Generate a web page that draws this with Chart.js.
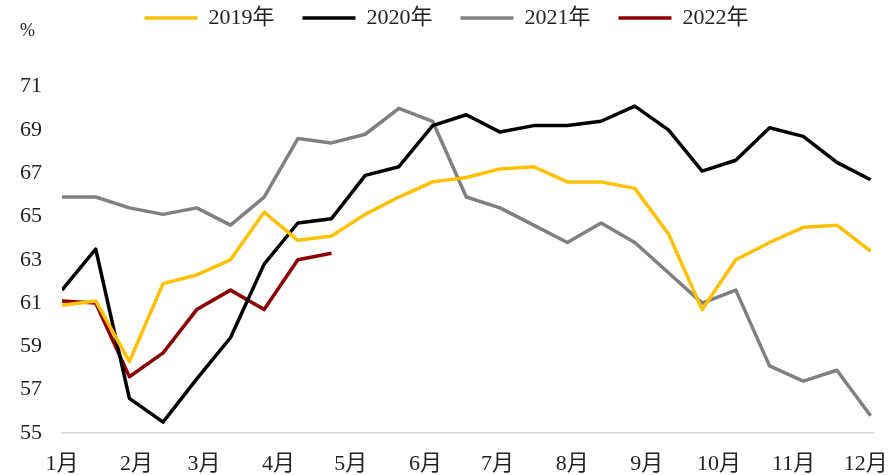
<!DOCTYPE html>
<html>
<head>
<meta charset="utf-8">
<script src="https://cdn.jsdelivr.net/npm/chart.js@4.4.1/dist/chart.umd.min.js"></script>
<style>
  html, body { margin: 0; padding: 0; background: #fff; }
  #wrap { position: relative; width: 892px; height: 475px; }
  #unit { position: absolute; left: 20px; top: 20px; font: 18px "Liberation Serif", "Noto Sans CJK SC", serif; color: #222; }
</style>
</head>
<body>
<div id="wrap">
  <canvas id="myChart" width="892" height="475"></canvas>
  <div id="unit">%</div>
</div>
<script>
// day of year for each reading (every two weeks)
var days = [0, 14, 28, 42, 56, 70, 84, 98, 112, 126, 140, 154, 168, 182, 196, 210, 224, 238, 252, 266, 280, 294, 308, 322, 336];
// month starts, used for the x tick labels
var monthDays = [0, 31, 59, 90, 120, 151, 181, 212, 243, 273, 304, 334];
var monthLabels = ["1月", "2月", "3月", "4月", "5月", "6月", "7月", "8月", "9月", "10月", "11月", "12月"];
var yTicks = [55, 57, 59, 61, 63, 65, 67, 69, 71];

var v2019 = [60.9, 61.1, 58.3, 61.9, 62.3, 63.0, 65.2, 63.9, 64.1, 65.1, 65.9, 66.6, 66.8, 67.2, 67.3, 66.6, 66.6, 66.3, 64.2, 60.7, 63.0, 63.8, 64.5, 64.6, 63.4];
var v2020 = [61.6, 63.5, 56.6, 55.5, 57.5, 59.4, 62.8, 64.7, 64.9, 66.9, 67.3, 69.2, 69.7, 68.9, 69.2, 69.2, 69.4, 70.1, 69.0, 67.1, 67.6, 69.1, 68.7, 67.5, 66.7];
var v2021 = [65.9, 65.9, 65.4, 65.1, 65.4, 64.6, 65.9, 68.6, 68.4, 68.8, 70.0, 69.4, 65.9, 65.4, 64.6, 63.8, 64.7, 63.8, 62.4, 61.0, 61.6, 58.1, 57.4, 57.9, 55.8];
var v2022 = [61.1, 61.0, 57.6, 58.7, 60.7, 61.6, 60.7, 63.0, 63.3];

function pts(vals) {
  return vals.map(function (v, i) { return {x: days[i], y: v}; });
}

var fontFam = '"Liberation Serif", "Noto Sans CJK SC", serif';

function line(label, vals, color) {
  return {
    label: label,
    data: pts(vals),
    borderColor: color,
    backgroundColor: color,
    borderWidth: 3.5,
    pointRadius: 0,
    tension: 0,
    borderJoinStyle: 'round'
  };
}

// invisible tick marks are used as the gap between axis and labels
var hiddenGrid = { display: true, drawOnChartArea: false, drawTicks: true, tickLength: 20, color: 'rgba(0,0,0,0)' };

new Chart("myChart", {
  type: "line",
  data: {
    datasets: [
      line("2019年", v2019, "#FFC000"),
      line("2020年", v2020, "#000000"),
      line("2021年", v2021, "#808080"),
      line("2022年", v2022, "#8B0000")
    ]
  },
  options: {
    responsive: false,
    animation: false,
    layout: { padding: { top: -21, left: 20, right: 19, bottom: 0 } },
    plugins: {
      tooltip: { enabled: false },
      legend: {
        position: 'top',
        labels: {
          usePointStyle: true,
          pointStyle: 'line',
          pointStyleWidth: 53,
          padding: 28,
          color: '#222',
          font: { family: fontFam, size: 22 }
        }
      }
    },
    scales: {
      x: {
        type: 'linear',
        min: 0,
        max: 337,
        afterBuildTicks: function (axis) {
          axis.ticks = monthDays.map(function (d) { return {value: d}; });
        },
        grid: hiddenGrid,
        border: { display: true, color: '#d9d9d9', width: 1.5 },
        ticks: {
          autoSkip: false,
          maxRotation: 0,
          padding: 0,
          color: '#222',
          font: { family: fontFam, size: 22, lineHeight: 1 },
          callback: function (value, index) { return monthLabels[index]; }
        }
      },
      y: {
        min: 55,
        max: 73.2,
        afterBuildTicks: function (axis) {
          axis.ticks = yTicks.map(function (v) { return {value: v}; });
        },
        grid: hiddenGrid,
        border: { display: false },
        ticks: {
          padding: 0,
          color: '#222',
          font: { family: fontFam, size: 22 }
        }
      }
    }
  }
});
</script>
</body>
</html>
